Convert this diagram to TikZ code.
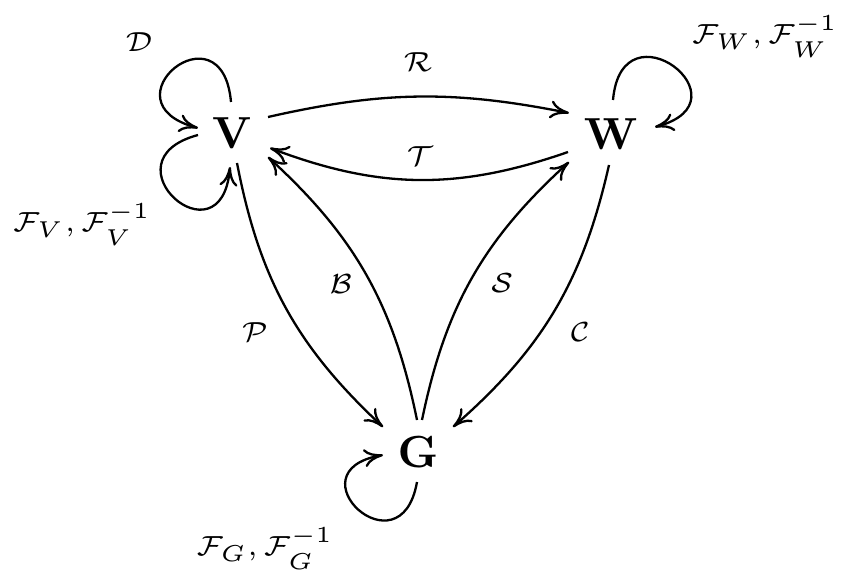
\documentclass[tikz,border=0pt]{standalone}
\usetikzlibrary{arrows.meta}
\begin{document}
\begin{tikzpicture}[x=1pt,y=1pt,
  vert/.style={inner sep=0pt,scale=4.5},
  lbl/.style={inner sep=0pt,scale=4.6,font=\fontsize{6}{7}\selectfont},
  arr/.style={line width=2.3pt,-{Computer Modern Rightarrow[length=19pt,width=18pt,line width=2.3pt]}}]
\useasboundingbox (0,0) rectangle (841,-577);
\node[vert] (V) at (232,-133) {$\mathbf{V}$};
\node[vert] (W) at (611,-134) {$\mathbf{W}$};
\node[vert] (G) at (418,-452) {$\mathbf{G}$};
% edges between vertices
\draw[arr] ([shift={(36,16)}]V.center) to[bend left=12] ([shift={(-42,21)}]W.center);
\draw[arr] ([shift={(-43,-18)}]W.center) to[bend left=20] ([shift={(38,-15)}]V.center);
\draw[arr] ([shift={(-1,32)}]G.center) to[bend right=18] ([shift={(36,-24)}]V.center);
\draw[arr] ([shift={(5,-30)}]V.center) to[bend right=18] ([shift={(-35,25)}]G.center);
\draw[arr] ([shift={(4,32)}]G.center) to[bend left=18] ([shift={(-42,-28)}]W.center);
\draw[arr] ([shift={(-2,-31)}]W.center) to[bend left=18] ([shift={(35,25)}]G.center);
% loops
\draw[arr] ([shift={(-1,31)}]V.center) .. controls +(95:100) and +(165:100) .. ([shift={(-34,5)}]V.center);
\draw[arr] ([shift={(-34,-2)}]V.center) .. controls +(195:100) and +(265:100) .. ([shift={(-2,-34)}]V.center);
\draw[arr] ([shift={(2,34)}]W.center) .. controls +(85:100) and +(15:100) .. ([shift={(44,7)}]W.center);
\draw[arr] ([shift={(-1,-30)}]G.center) .. controls +(260:95) and +(190:95) .. ([shift={(-35,-3)}]G.center);
% labels
\node[lbl] (lD) at (139,-42) {$\mathcal{D}$};
\node[lbl] (lR) at (418,-62) {$\mathcal{R}$};
\node[lbl] (lT) at (420,-156) {$\mathcal{T}$};
\node[lbl] (lFW) at (765,-36) {$\mathcal{F}_W,\mathcal{F}_W^{-1}$};
\node[lbl] (lFV) at (82,-224) {$\mathcal{F}_V,\mathcal{F}_V^{-1}$};
\node[lbl] (lB) at (341,-284) {$\mathcal{B}$};
\node[lbl] (lS) at (502,-283) {$\mathcal{S}$};
\node[lbl] (lP) at (255,-332) {$\mathcal{P}$};
\node[lbl] (lC) at (580,-332) {$\mathcal{C}$};
\node[lbl] (lFG) at (265,-548) {$\mathcal{F}_G,\mathcal{F}_G^{-1}$};
\end{tikzpicture}
\end{document}
